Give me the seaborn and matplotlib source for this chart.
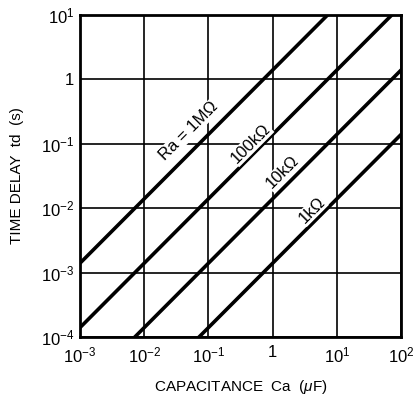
import numpy as np
import pandas as pd
import seaborn as sns
import matplotlib.pyplot as plt

# capacitance (uF) at decade points and the delay (s)
ca_uf = [1e-3, 1e-2, 1e-1, 1, 10, 100]
td_1m = [1.4e-3, 1.4e-2, 0.14, 1.4, 14, 140]
td_100k = [1.4e-4, 1.4e-3, 1.4e-2, 0.14, 1.4, 14]
td_10k = [1.4e-5, 1.4e-4, 1.4e-3, 1.4e-2, 0.14, 1.4]
td_1k = [1.4e-6, 1.4e-5, 1.4e-4, 1.4e-3, 1.4e-2, 0.14]

line_names = ['1M', '100k', '10k', '1k']
line_labels = ['Ra = 1M\u03a9', '100k\u03a9', '10k\u03a9', '1k\u03a9']
label_x = [0.05, 0.46, 1.4, 4.1]
label_y = [0.16, 0.10, 0.036, 0.0093]

x_ticks = [1e-3, 1e-2, 1e-1, 1, 10, 100]
x_ticklabels = ['$10^{-3}$', '$10^{-2}$', '$10^{-1}$', '1', '$10^{1}$', '$10^{2}$']
y_ticks = [1e-4, 1e-3, 1e-2, 1e-1, 1, 10]
y_ticklabels = ['$10^{-4}$', '$10^{-3}$', '$10^{-2}$', '$10^{-1}$', '1', '$10^{1}$']

df = pd.DataFrame({
    'ca': ca_uf * 4,
    'td': td_1m + td_100k + td_10k + td_1k,
    'ra': np.repeat(line_names, len(ca_uf)),
})

sns.set_style('white')
plt.rcParams['font.family'] = ['Liberation Sans', 'DejaVu Sans']
plt.rcParams['mathtext.fontset'] = 'custom'
plt.rcParams['mathtext.rm'] = 'Liberation Sans'
plt.rcParams['mathtext.it'] = 'Liberation Sans:italic'
plt.rcParams['text.color'] = 'black'
plt.rcParams['axes.labelcolor'] = 'black'

fig = plt.figure(figsize=(4.2, 3.96), dpi=100)
ax = fig.add_axes([0.1905, 0.149, 0.7645, 0.813])

sns.lineplot(data=df, x='ca', y='td', hue='ra', palette=['black'] * 4,
             linewidth=2.6, legend=False, ax=ax)

ax.set_xscale('log')
ax.set_yscale('log')
ax.set_xlim(1e-3, 1e2)
ax.set_ylim(1e-4, 1e1)
ax.set_xticks(x_ticks)
ax.set_xticklabels(x_ticklabels)
ax.set_yticks(y_ticks)
ax.set_yticklabels(y_ticklabels)
ax.minorticks_off()
ax.tick_params(length=0, labelsize=12, colors='black')
ax.tick_params(axis='x', pad=6)
ax.tick_params(axis='y', pad=4)
ax.grid(True, color='black', linewidth=1.2)
for s in ax.spines.values():
    s.set_color('black')
    s.set_linewidth(2.0)

for lx, ly, txt in zip(label_x, label_y, line_labels):
    ax.text(lx, ly, txt, rotation=45, ha='center', va='center', fontsize=12,
            bbox=dict(facecolor='white', edgecolor='none', pad=0.5))

ax.set_xlabel('CAPACITANCE  Ca  ($\\mu$F)', fontsize=11, labelpad=9)
ax.set_ylabel('TIME DELAY  td  (s)', fontsize=11, labelpad=12)

fig.savefig('out.png', dpi=100)
